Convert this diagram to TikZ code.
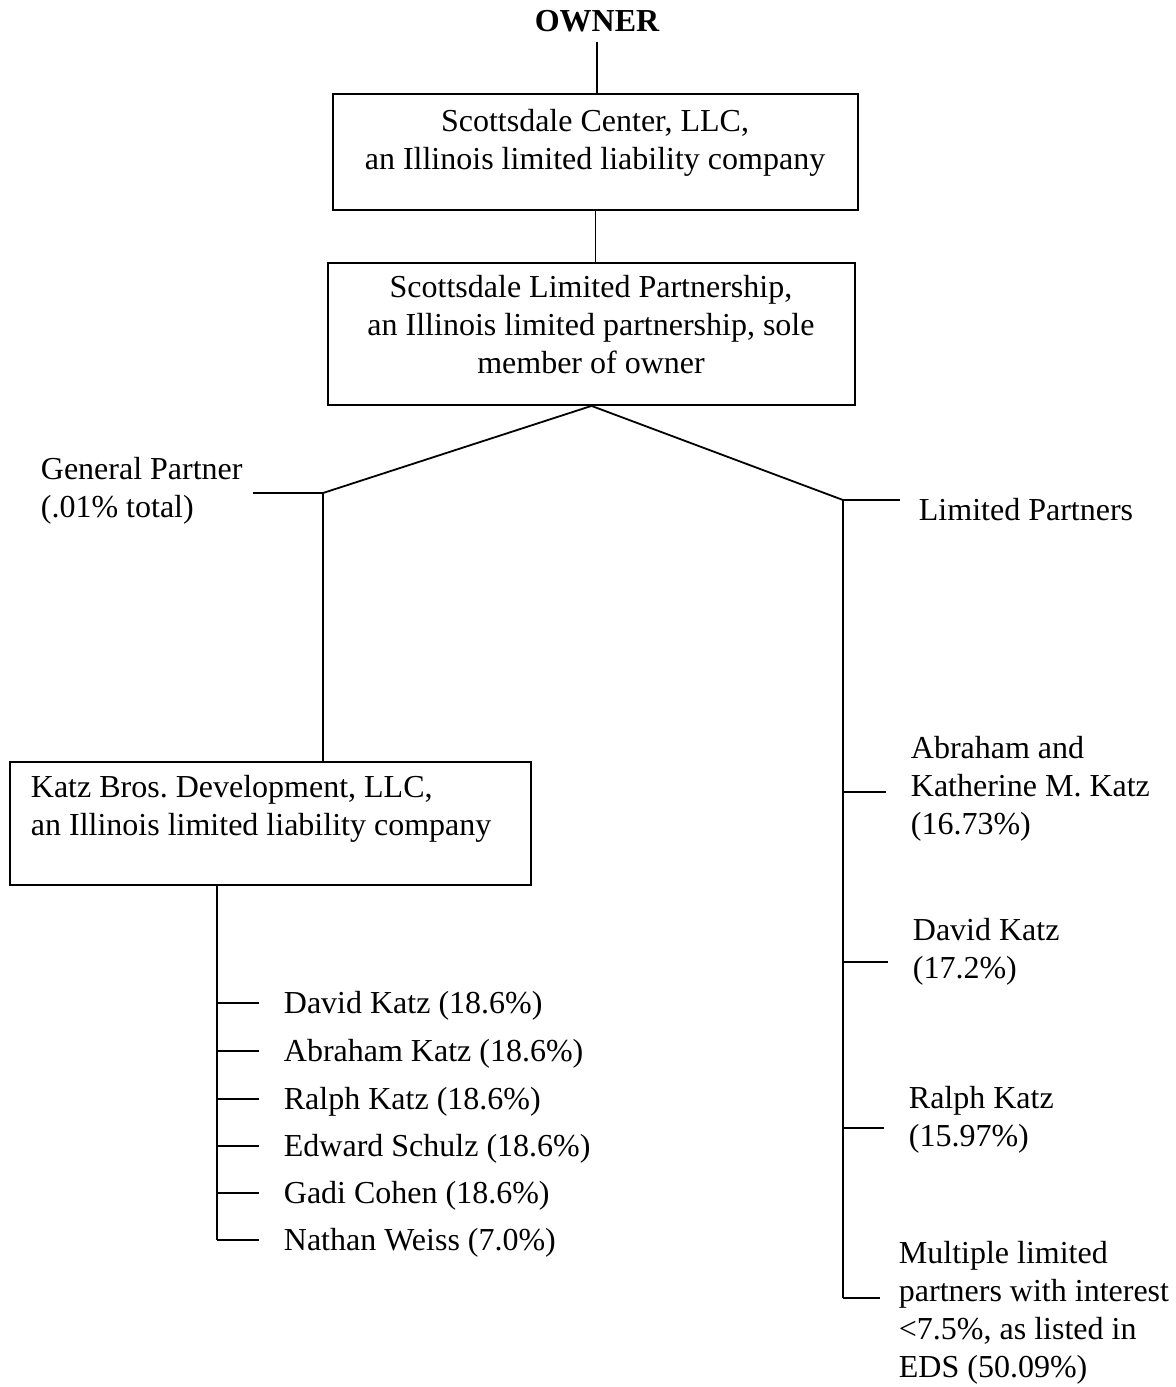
\documentclass[tikz,border=0pt]{standalone}
\usepackage{fontspec}
\setmainfont{Liberation Serif}
\frenchspacing
\begin{document}
\begin{tikzpicture}[x=0.5pt,y=-0.5pt,
  font=\fontsize{16}{19}\selectfont,
  line width=0.9pt,
  box/.style={draw, rectangle, inner sep=0pt},
  txt/.style={inner sep=0pt, align=left, anchor=west},
  ctxt/.style={inner sep=0pt, align=center}]
\useasboundingbox (0,0) rectangle (1176,1387);

% top
\node[ctxt, font=\fontsize{16}{19}\selectfont\bfseries] (owner) at (597,21) {OWNER};
\node[box, minimum width=262.5pt, minimum height=58pt] (b1) at (595.5,152) {};
\node[ctxt] (t1) at (595,143) {Scottsdale Center, LLC,\\an Illinois limited liability company};
\node[box, minimum width=263.5pt, minimum height=71pt] (b2) at (591.5,334) {};
\node[ctxt] (t2) at (591,325) {Scottsdale Limited Partnership,\\an Illinois limited partnership, sole\\member of owner};
\draw ([yshift=-4.5pt]owner.south) -- (owner.south |- b1.north);
\draw (b1.south) -- (b1.south |- b2.north);

% split
\coordinate (gpc) at (323,493);
\coordinate (gpe) at (253,493);
\coordinate (lpc) at (843,500);
\draw (b2.south) -- (gpc);
\draw (b2.south) -- (lpc);

% general partner
\node[txt] (gp) at (40,491) {General Partner\\(.01\% total)};
\draw (gpe) -- (gpc);
\node[box, minimum width=260.5pt, minimum height=61.5pt] (b3) at (270.5,823.5) {};
\node[txt] (t3) at (30,809) {Katz Bros. Development, LLC,\\an Illinois limited liability company};
\draw (gpc) -- (gpc |- b3.north);

% members of Katz Bros.
\coordinate (ls) at (217,1240);
\draw (b3.south -| ls) -- (ls);
\foreach \n/\y/\t in {1/1003/{David Katz (18.6\%)},
                      2/1051/{Abraham Katz (18.6\%)},
                      3/1099/{Ralph Katz (18.6\%)},
                      4/1146/{Edward Schulz (18.6\%)},
                      5/1193/{Gadi Cohen (18.6\%)},
                      6/1240/{Nathan Weiss (7.0\%)}}{
  \node[txt] (m\n) at (283,\y+3) {\t};
  \draw (ls |- m\n.west) ++(0,-3) coordinate (mk\n) -- ++(42,0);
}

% limited partners
\node[txt] (lp) at (918,510) {Limited Partners};
\draw (lpc) -- ([xshift=-9pt]lp.west |- lpc);
\coordinate (rs) at (843,1298);
\draw (lpc) -- (rs);

\node[txt] (r1) at (910,789) {Abraham and\\Katherine M. Katz\\(16.73\%)};
\node[txt] (r2) at (912,952) {David Katz\\(17.2\%)};
\node[txt] (r3) at (908,1120) {Ralph Katz\\(15.97\%)};
\node[txt] (r4) at (898,1313) {Multiple limited\\partners with interest\\<7.5\%, as listed in\\EDS (50.09\%)};

\coordinate (k1) at (843,792);
\coordinate (k2) at (843,962);
\coordinate (k3) at (843,1128);
\coordinate (k4) at (843,1298);
\draw (k1) -- ([xshift=-12pt]r1.west |- k1);
\draw (k2) -- ([xshift=-12pt]r2.west |- k2);
\draw (k3) -- ([xshift=-12pt]r3.west |- k3);
\draw (k4) -- ([xshift=-9pt]r4.west |- k4);
\end{tikzpicture}
\end{document}
